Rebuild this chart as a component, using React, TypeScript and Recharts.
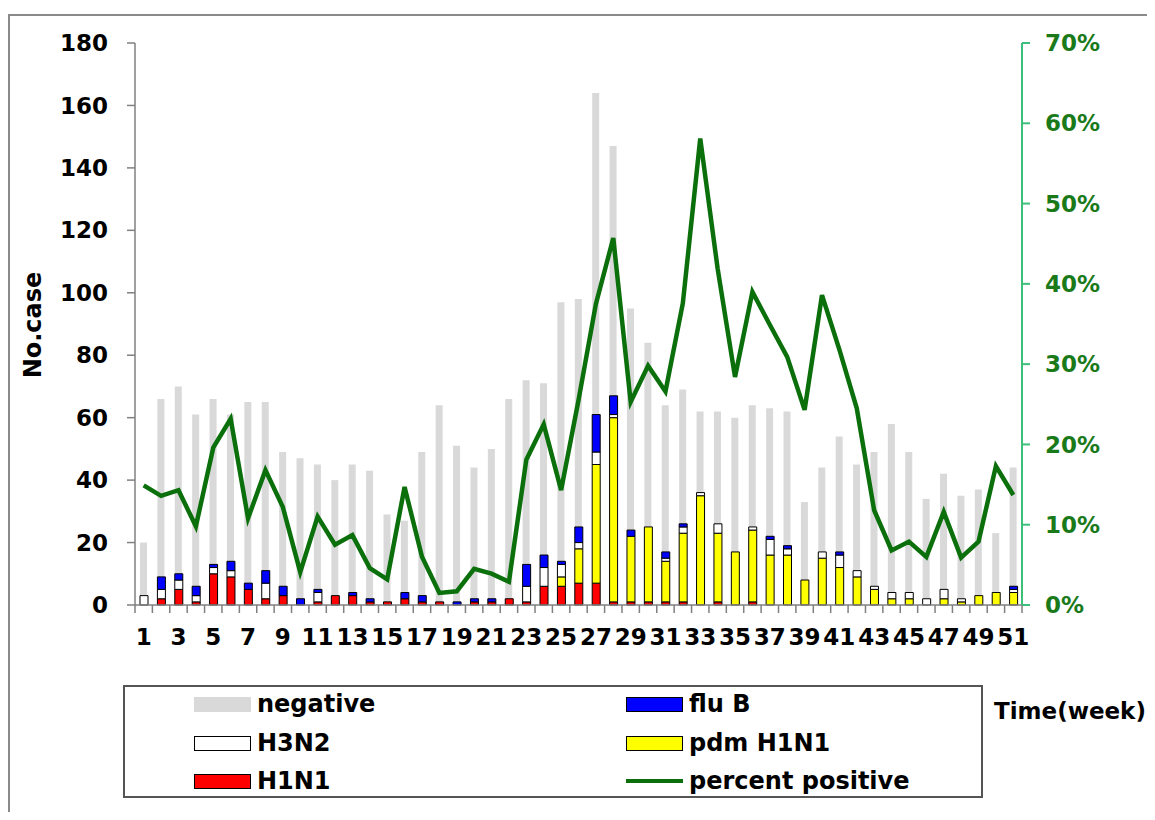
import { ComposedChart, Bar, Line, XAxis, YAxis } from "recharts";

const weeks = Array.from({ length: 51 }, (_, i) => i + 1);

// total tested per week (grey bar top)
const negative = [20, 66, 70, 61, 66, 61, 65, 65, 49, 47, 45, 40, 45, 43, 29, 27, 49, 64, 51, 44, 50, 66, 72, 71, 97, 98, 164, 147, 95, 84, 64, 69, 62, 62, 60, 64, 63, 62, 33, 44, 54, 45, 49, 58, 49, 34, 42, 35, 37, 23, 44];
const h1n1 = [0, 2, 5, 1, 10, 9, 5, 2, 3, 0, 1, 3, 3, 1, 1, 2, 1, 1, 0, 1, 1, 2, 1, 6, 6, 7, 7, 1, 1, 1, 1, 1, 0, 1, 0, 1, 0, 0, 0, 0, 0, 0, 0, 0, 0, 0, 0, 0, 0, 0, 0];
const pdmH1n1 = [0, 0, 0, 0, 0, 0, 0, 0, 0, 0, 0, 0, 0, 0, 0, 0, 0, 0, 0, 0, 0, 0, 0, 0, 3, 11, 38, 59, 21, 24, 13, 22, 35, 22, 17, 23, 16, 16, 8, 15, 12, 9, 5, 2, 2, 0, 2, 1, 3, 4, 4];
const h3n2 = [3, 3, 3, 2, 2, 2, 0, 5, 0, 0, 3, 0, 0, 0, 0, 0, 0, 0, 0, 0, 0, 0, 5, 6, 4, 2, 4, 1, 0, 0, 1, 2, 1, 3, 0, 1, 5, 2, 0, 2, 4, 2, 1, 2, 2, 2, 3, 1, 0, 0, 1];
const fluB = [0, 4, 2, 3, 1, 3, 2, 4, 3, 2, 1, 0, 1, 1, 0, 2, 2, 0, 1, 1, 1, 0, 7, 4, 1, 5, 12, 6, 2, 0, 2, 1, 0, 0, 0, 0, 1, 1, 0, 0, 1, 0, 0, 0, 0, 0, 0, 0, 0, 0, 1];
const pctPositive = [14.9, 13.6, 14.3, 9.8, 19.6, 23.2, 10.8, 16.8, 12.2, 4.1, 11.0, 7.5, 8.7, 4.6, 3.2, 14.7, 6.0, 1.5, 1.7, 4.5, 3.9, 2.9, 18.1, 22.5, 14.3, 25.5, 37.5, 45.7, 25.3, 29.8, 26.6, 37.6, 58.1, 41.9, 28.4, 39.0, 34.9, 30.9, 24.3, 38.6, 31.8, 24.5, 11.8, 6.8, 7.9, 6.0, 11.6, 5.9, 7.9, 17.3, 13.7];

const leftTicks = [0, 20, 40, 60, 80, 100, 120, 140, 160, 180];
const rightTicks = [0, 10, 20, 30, 40, 50, 60, 70];

const data = weeks.map((w, i) => ({
  week: w,
  negative: negative[i],
  h1n1: h1n1[i],
  pdm: pdmH1n1[i],
  h3n2: h3n2[i],
  fluB: fluB[i],
  pct: pctPositive[i],
}));

const FONT = '"DejaVu Sans", Verdana, sans-serif';
const GREEN = "#0b6f0b";
const PLOT_W = 887;
const BW = PLOT_W / weeks.length;

function WeekTick(props: any) {
  const { x, y, payload, index } = props;
  const left = x - BW / 2;
  return (
    <g>
      <line x1={left} y1={y} x2={left} y2={y + 8} stroke="#808080" strokeWidth={1.5} />
      {index === weeks.length - 1 && (
        <line x1={x + BW / 2} y1={y} x2={x + BW / 2} y2={y + 8} stroke="#808080" strokeWidth={1.5} />
      )}
      {payload.value % 2 === 1 && (
        <text x={x} y={y + 40} textAnchor="middle" fontFamily={FONT} fontWeight="bold" fontSize={23} fill="#000">
          {payload.value}
        </text>
      )}
    </g>
  );
}

const legendRows = [
  [
    { label: "negative", kind: "box", fill: "#d9d9d9", border: false },
    { label: "flu B", kind: "box", fill: "#0000ff", border: true },
  ],
  [
    { label: "H3N2", kind: "box", fill: "#ffffff", border: true },
    { label: "pdm H1N1", kind: "box", fill: "#ffff00", border: true },
  ],
  [
    { label: "H1N1", kind: "box", fill: "#ff0000", border: true },
    { label: "percent positive", kind: "line", fill: GREEN, border: false },
  ],
];
const rowY = [696, 735, 773];
const colX = [186, 618];

export default function App() {
  return (
    <div style={{ position: "relative", width: 1147, height: 804, fontFamily: FONT }}>
      <div
        style={{
          position: "absolute",
          left: 0,
          top: 6,
          width: 1147,
          height: 798,
          borderLeft: "2px solid #8a8a8a",
          borderTop: "2px solid #8a8a8a",
          boxSizing: "border-box",
        }}
      />
      <div
        style={{
          position: "absolute",
          left: 25,
          top: 317,
          transform: "translate(-50%, -50%) rotate(-90deg)",
          fontWeight: "bold",
          fontSize: 24,
          whiteSpace: "nowrap",
        }}
      >
        No.case
      </div>
      <div style={{ position: "absolute", left: 0, top: 0 }}>
        <ComposedChart width={1147} height={680} data={data} margin={{ top: 35, right: 0, bottom: 43, left: 0 }}>
          <XAxis
            dataKey="week"
            interval={0}
            height={40}
            tickSize={0}
            tickMargin={0}
            tickLine={false}
            axisLine={{ stroke: "#808080", strokeWidth: 1.5 }}
            tick={<WeekTick />}
          />
          <XAxis xAxisId="neg" dataKey="week" hide />
          <YAxis
            yAxisId="left"
            width={127}
            domain={[0, 180]}
            ticks={leftTicks}
            interval={0}
            tickSize={8}
            tickMargin={19}
            axisLine={{ stroke: "#808080", strokeWidth: 1.5 }}
            tickLine={{ stroke: "#808080", strokeWidth: 1.5 }}
            tick={{ fill: "#000", fontSize: 23, fontWeight: "bold", fontFamily: FONT }}
          />
          <YAxis
            yAxisId="right"
            orientation="right"
            width={133}
            domain={[0, 70]}
            ticks={rightTicks}
            interval={0}
            tickSize={8}
            tickMargin={15}
            tickFormatter={(v: number) => `${v}%`}
            axisLine={{ stroke: "#3cbf7a", strokeWidth: 2 }}
            tickLine={{ stroke: "#3cbf7a", strokeWidth: 2 }}
            tick={{ fill: "#1a7a1a", fontSize: 23, fontWeight: "bold", fontFamily: FONT, textAnchor: "start" }}
          />
          <Bar xAxisId="neg" yAxisId="left" dataKey="negative" fill="#d9d9d9" barSize={7} isAnimationActive={false} />
          <Bar yAxisId="left" dataKey="h1n1" stackId="pos" fill="#ff0000" stroke="#000" strokeWidth={1} barSize={8} isAnimationActive={false} />
          <Bar yAxisId="left" dataKey="pdm" stackId="pos" fill="#ffff00" stroke="#000" strokeWidth={1} barSize={8} isAnimationActive={false} />
          <Bar yAxisId="left" dataKey="h3n2" stackId="pos" fill="#ffffff" stroke="#000" strokeWidth={1} barSize={8} isAnimationActive={false} />
          <Bar yAxisId="left" dataKey="fluB" stackId="pos" fill="#0000ff" stroke="#000" strokeWidth={1} barSize={8} isAnimationActive={false} />
          <Line yAxisId="right" dataKey="pct" stroke={GREEN} strokeWidth={4.5} dot={false} activeDot={false} isAnimationActive={false} />
        </ComposedChart>
      </div>
      <div
        style={{
          position: "absolute",
          left: 115,
          top: 677,
          width: 860,
          height: 113,
          border: "2px solid #555",
          boxSizing: "border-box",
        }}
      />
      {legendRows.map((row, r) =>
        row.map((item, c) => (
          <div
            key={item.label}
            style={{
              position: "absolute",
              left: colX[c],
              top: rowY[r] - 15,
              height: 30,
              display: "flex",
              alignItems: "center",
              fontWeight: "bold",
              fontSize: 24,
              whiteSpace: "nowrap",
            }}
          >
            {item.kind === "box" ? (
              <div
                style={{
                  width: 57,
                  height: 15,
                  background: item.fill,
                  border: item.border ? "1.5px solid #000" : "none",
                  boxSizing: "border-box",
                  marginRight: 6,
                }}
              />
            ) : (
              <div style={{ width: 57, height: 4, background: item.fill, marginRight: 6 }} />
            )}
            <span>{item.label}</span>
          </div>
        ))
      )}
      <div
        style={{
          position: "absolute",
          left: 986,
          top: 690,
          fontWeight: "bold",
          fontSize: 23,
          whiteSpace: "nowrap",
        }}
      >
        Time(week)
      </div>
    </div>
  );
}
